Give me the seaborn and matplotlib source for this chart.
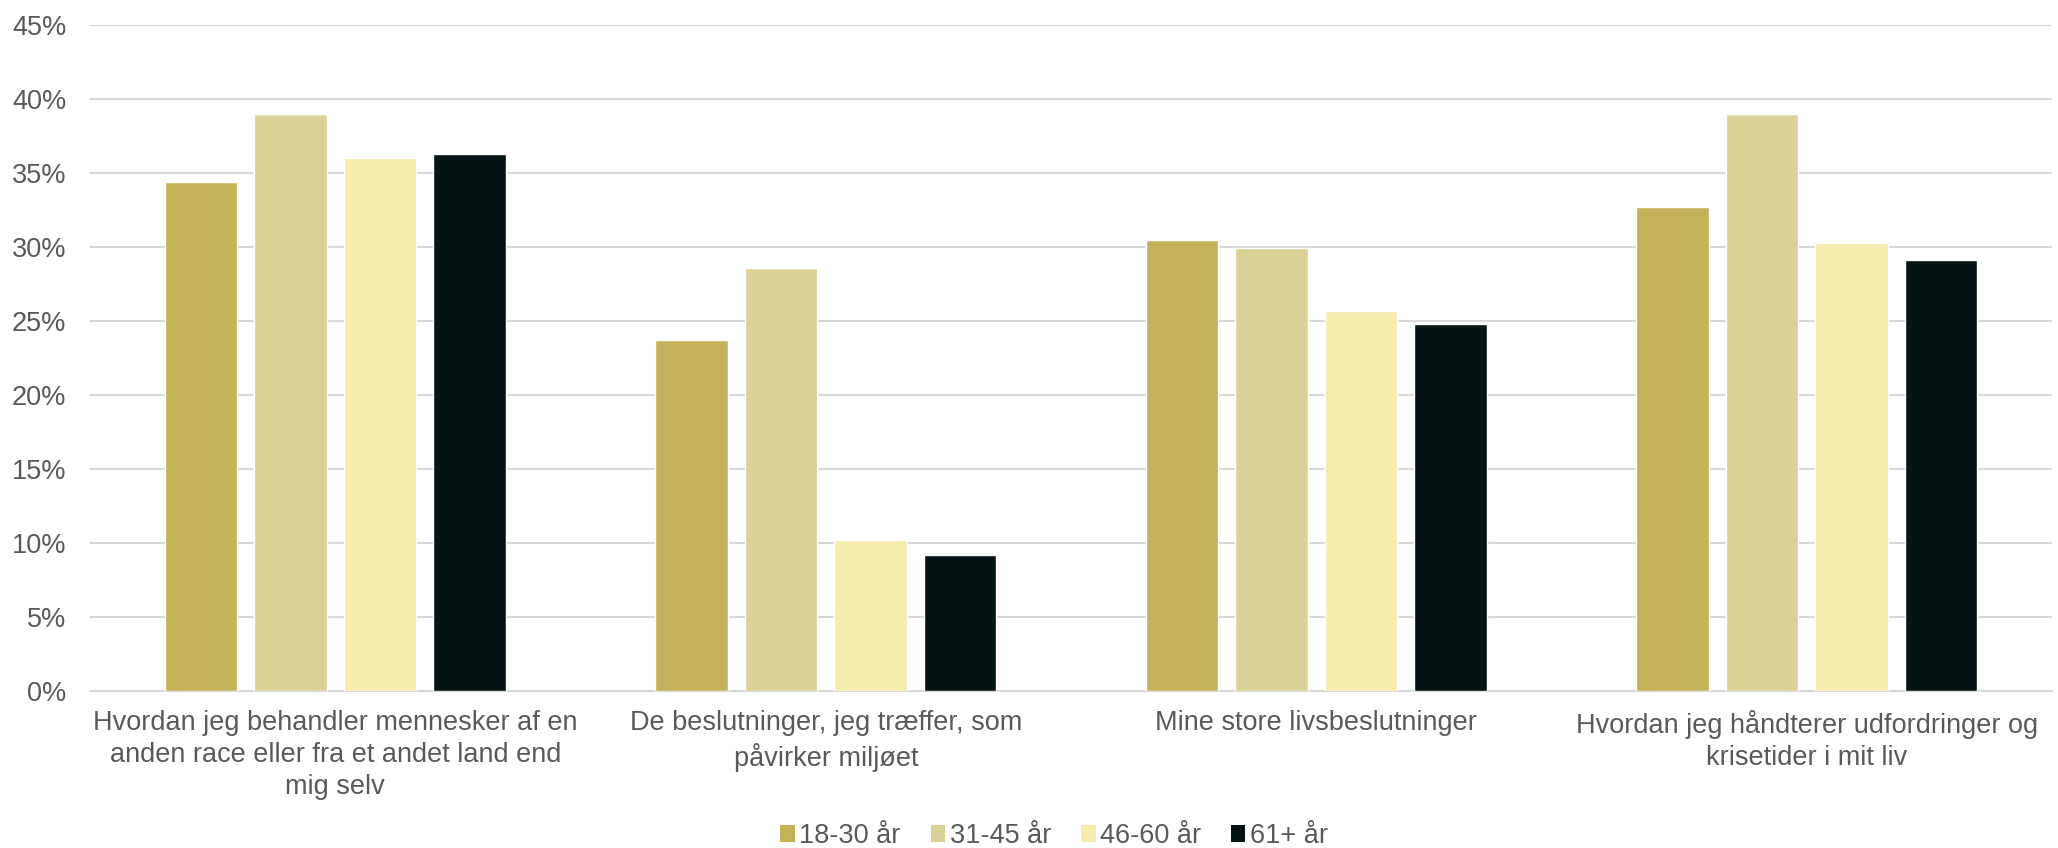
import matplotlib.pyplot as plt
import pandas as pd
import seaborn as sns
from matplotlib.patches import Patch
from matplotlib.ticker import PercentFormatter

categories = [
    "Hvordan jeg behandler mennesker af en\nanden race eller fra et andet land end\nmig selv",
    "De beslutninger, jeg træffer, som\npåvirker miljøet",
    "Mine store livsbeslutninger",
    "Hvordan jeg håndterer udfordringer og\nkrisetider i mit liv",
]
age_groups = ["18-30 år", "31-45 år", "46-60 år", "61+ år"]

age_18_30 = [34.4, 23.7, 30.5, 32.7]
age_31_45 = [39.0, 28.6, 29.9, 39.0]
age_46_60 = [36.0, 10.2, 25.7, 30.3]
age_61_plus = [36.3, 9.2, 24.8, 29.1]

colors = ["#C4B25A", "#DAD196", "#F6ECAE", "#061415"]
text_color = "#595959"
grid_color = "#D9D9D9"


def build_frame() -> pd.DataFrame:
    rows = []
    for group, values in zip(age_groups, [age_18_30, age_31_45, age_46_60, age_61_plus]):
        for cat, v in zip(categories, values):
            rows.append({"Kategori": cat, "Alder": group, "Andel": v / 100})
    return pd.DataFrame(rows)


def main() -> None:
    sns.set_theme(style="white")
    plt.rcParams["font.family"] = ["Liberation Sans", "DejaVu Sans"]

    df = build_frame()

    fig = plt.figure(figsize=(20.58, 8.48), dpi=100)
    ax = fig.add_axes([90 / 2058, 1 - 691 / 848, (2052 - 90) / 2058, (691 - 25) / 848])

    sns.barplot(
        data=df,
        x="Kategori",
        y="Andel",
        hue="Alder",
        order=categories,
        hue_order=age_groups,
        palette=colors,
        width=0.73,
        gap=0.19,
        saturation=1,
        errorbar=None,
        legend=False,
        ax=ax,
        zorder=3,
    )

    ax.set_ylim(0, 0.45)
    ax.set_yticks([i * 0.05 for i in range(10)])
    ax.yaxis.set_major_formatter(PercentFormatter(1.0, decimals=0))
    ax.set_xlim(-0.5, len(categories) - 0.5)
    ax.grid(axis="y", color=grid_color, linewidth=1.5, zorder=0)
    ax.set_axisbelow(True)
    for side in ["top", "right", "left"]:
        ax.spines[side].set_visible(False)
    ax.spines["bottom"].set_color(grid_color)
    ax.spines["bottom"].set_linewidth(1.5)

    ax.set_xlabel("")
    ax.set_ylabel("")
    ax.tick_params(axis="both", length=0, colors=text_color, labelsize=19.5)
    ax.tick_params(axis="y", pad=17)
    ax.tick_params(axis="x", pad=14)
    for label in ax.get_xticklabels():
        label.set_linespacing(1.3)
        label.set_horizontalalignment("center")

    handles = [Patch(facecolor=c, edgecolor="none") for c in colors]
    fig.legend(
        handles,
        age_groups,
        loc="center",
        bbox_to_anchor=(1054 / 2058, 1 - 836 / 848),
        ncol=4,
        frameon=False,
        fontsize=19.5,
        labelcolor=text_color,
        handlelength=0.55,
        handleheight=0.55,
        handletextpad=0.15,
        columnspacing=1.1,
        borderpad=0,
    )

    fig.savefig("out.png", dpi=100)
    plt.close(fig)


if __name__ == "__main__":
    main()
